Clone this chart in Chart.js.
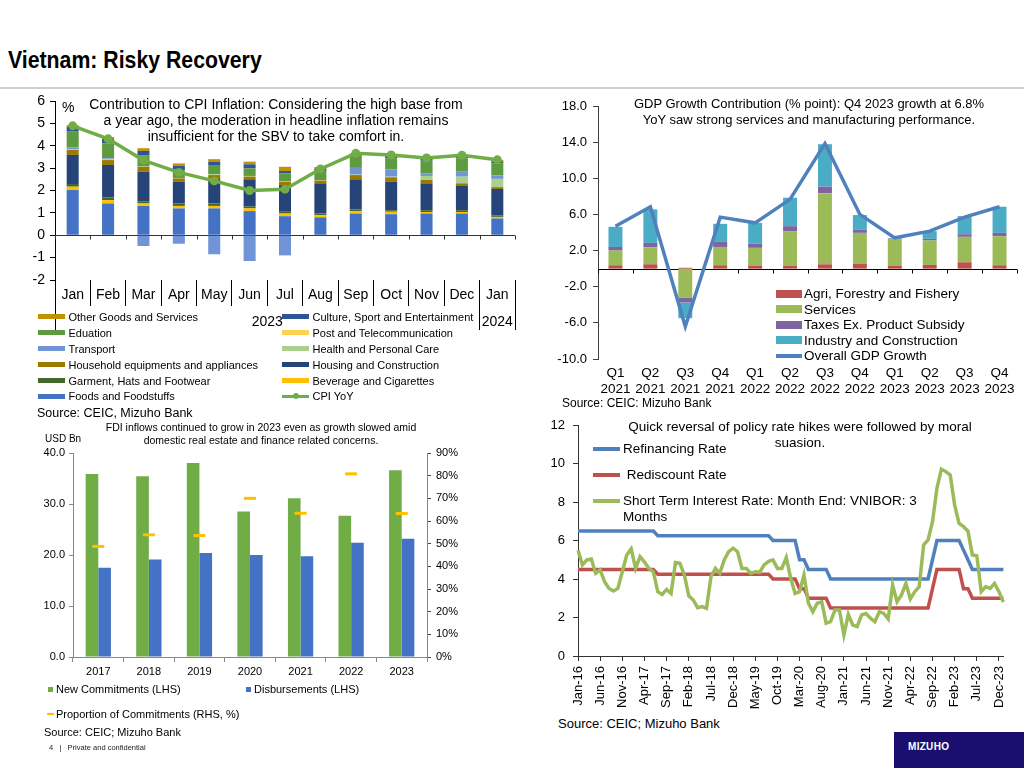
<!DOCTYPE html>
<html>
<head>
<meta charset="utf-8">
<script src="https://cdn.jsdelivr.net/npm/chart.js@4.4.1/dist/chart.umd.min.js"></script>
<style>
  body { margin: 0; width: 1024px; height: 768px; position: relative; overflow: hidden; background: #fff;
         font-family: 'Liberation Sans', Arial, sans-serif; color: #000; }
  canvas { position: absolute; }
  .t { position: absolute; white-space: nowrap; }
  .ctr { text-align: center; }
  .lg { position: absolute; display: grid; }
  .li { display: flex; align-items: center; white-space: nowrap; }
  .sw { display: inline-block; flex: none; position: relative; }
</style>
</head>
<body>
<div class="t" style="left:8px;top:48px;font:bold 24px 'Liberation Sans Narrow','Arial Narrow','Liberation Sans',sans-serif;line-height:24px;transform:scaleX(0.886);transform-origin:0 0">Vietnam: Risky Recovery</div>
<div style="position:absolute;left:0;top:87px;width:1024px;height:2px;background:#cfcfcf"></div>

<canvas id="cpi" width="505" height="247" style="left:20px;top:85px"></canvas>
<canvas id="gdp" width="479" height="307" style="left:545px;top:88px"></canvas>
<canvas id="fdi" width="445" height="248" style="left:25px;top:437px"></canvas>
<canvas id="rates" width="489" height="310" style="left:535px;top:405px"></canvas>

<!-- CPI chart texts -->
<div class="t ctr" style="left:76px;top:96px;width:400px;font-size:14px;line-height:16px">Contribution to CPI Inflation: Considering the high base from<br>a year ago, the moderation in headline inflation remains<br>insufficient for the SBV to take comfort in.</div>
<div class="t" style="left:62px;top:99px;font-size:14px;line-height:16px">%</div>
<div class="lg" id="cpiLegend" style="left:38px;top:309px;grid-template-columns:244px auto;grid-auto-rows:15.9px;font-size:11px"></div>
<div class="t" style="left:37px;top:405px;font-size:12.5px;line-height:16px">Source: CEIC, Mizuho Bank</div>

<!-- GDP chart texts -->
<div class="t ctr" style="left:609px;top:96px;width:400px;font-size:13px;line-height:15.5px">GDP Growth Contribution (% point): Q4 2023 growth at 6.8%<br>YoY saw strong services and manufacturing performance.</div>
<div class="lg" id="gdpLegend" style="left:776px;top:286px;grid-auto-rows:15.5px;font-size:13.5px"></div>
<div class="t" style="left:562px;top:396px;font-size:12px;line-height:14px">Source: CEIC: Mizuho Bank</div>

<!-- FDI chart texts -->
<div class="t ctr" style="left:61px;top:421px;width:400px;font-size:10.5px;line-height:12.5px">FDI inflows continued to grow in 2023 even as growth slowed amid<br>domestic real estate and finance related concerns.</div>
<div class="t" style="left:45px;top:433px;font-size:10px;line-height:12px">USD Bn</div>
<div class="lg" id="fdiLegend" style="left:48px;top:682px;grid-template-columns:198px auto;grid-auto-rows:25px;align-items:start;font-size:11px;line-height:14px"></div>
<div class="t" style="left:44px;top:725px;font-size:11px;line-height:14px">Source: CEIC; Mizuho Bank</div>

<!-- Rates chart texts -->
<div class="t ctr" style="left:600px;top:419px;width:400px;font-size:13.5px;line-height:15.5px">Quick reversal of policy rate hikes were followed by moral<br>suasion.</div>
<div class="lg" id="rateLegend" style="left:593px;top:441px;row-gap:10px;font-size:13.5px;line-height:16px"></div>
<div class="t" style="left:558px;top:716px;font-size:13px;line-height:16px">Source: CEIC; Mizuho Bank</div>

<!-- footer -->
<div class="t" style="left:49px;top:743px;font-size:7.5px;line-height:10px;color:#222">4&nbsp;&nbsp;&nbsp;|&nbsp;&nbsp;&nbsp;Private and confidential</div>
<div style="position:absolute;left:894px;top:732px;width:130px;height:36px;background:#1a0e6e">
  <div class="t" style="left:14px;top:9px;color:#fff;font:bold 10px 'Liberation Sans',Arial,sans-serif;letter-spacing:0.3px">MIZUHO</div>
</div>

<script>
// ---------- CPI contribution (Jan 2023 - Jan 2024) ----------
const cpiMonths = ['Jan', 'Feb', 'Mar', 'Apr', 'May', 'Jun', 'Jul', 'Aug', 'Sep', 'Oct', 'Nov', 'Dec', 'Jan'];
const cpiYears = ['2023', '2024'];
const cpiYearSpans = [12, 1];

const foods     = [2.02, 1.42, 1.31, 1.20, 1.20, 1.08, 0.85, 0.80, 0.97, 0.94, 0.97, 0.97, 0.75];
const beverage  = [0.15, 0.15, 0.11, 0.11, 0.11, 0.12, 0.12, 0.10, 0.11, 0.11, 0.07, 0.07, 0.07];
const garment   = [0.12, 0.12, 0.10, 0.11, 0.11, 0.08, 0.08, 0.07, 0.07, 0.07, 0.08, 0.08, 0.06];
const housing   = [1.30, 1.45, 1.32, 0.97, 1.09, 1.22, 1.19, 1.35, 1.35, 1.27, 1.20, 1.08, 1.19];
const household = [0.22, 0.22, 0.22, 0.15, 0.18, 0.12, 0.15, 0.12, 0.19, 0.20, 0.15, 0.12, 0.08];
const health    = [0.03, 0.03, 0.02, 0.02, 0.03, 0.03, 0.03, 0.02, 0.02, 0.03, 0.18, 0.30, 0.37];
const transport = [0.06, 0.05, -0.48, -0.38, -0.85, -1.15, -0.90, 0.00, 0.30, 0.33, 0.12, 0.22, 0.15];
const post      = [0.01, 0.01, 0.00, 0.00, 0.00, 0.00, 0.00, -0.02, 0.00, 0.00, 0.00, 0.00, 0.00];
const education = [0.72, 0.65, 0.48, 0.35, 0.42, 0.34, 0.35, 0.42, 0.58, 0.49, 0.56, 0.60, 0.55];
const culture   = [0.21, 0.20, 0.21, 0.20, 0.15, 0.18, 0.10, 0.10, 0.05, 0.10, 0.08, 0.10, 0.08];
const other     = [0.08, 0.09, 0.12, 0.10, 0.11, 0.12, 0.19, 0.07, 0.02, 0.05, 0.03, 0.05, 0.06];
const cpiYoY    = [4.89, 4.31, 3.35, 2.81, 2.43, 2.00, 2.06, 2.96, 3.66, 3.59, 3.45, 3.58, 3.37];

const cpiNames = ['Foods and Foodstuffs', 'Beverage and Cigarettes', 'Garment, Hats and Footwear',
  'Housing and Construction', 'Household equipments and appliances', 'Health and Personal Care',
  'Transport', 'Post and Telecommunication', 'Eduation', 'Culture, Sport and Entertainment',
  'Other Goods and Services'];
const cpiValues = [foods, beverage, garment, housing, household, health, transport, post, education, culture, other];
const cpiColors = ['#4472C4', '#FFC000', '#43682B', '#264478', '#9C7A00', '#A9D18E',
  '#7094D6', '#FFD34D', '#5E9A40', '#2F5597', '#C09100'];

// ---------- GDP growth contribution ----------
const gdpQuarters = [['Q1', '2021'], ['Q2', '2021'], ['Q3', '2021'], ['Q4', '2021'],
  ['Q1', '2022'], ['Q2', '2022'], ['Q3', '2022'], ['Q4', '2022'],
  ['Q1', '2023'], ['Q2', '2023'], ['Q3', '2023'], ['Q4', '2023']];
const agri     = [0.37, 0.48, 0.10, 0.37, 0.30, 0.30, 0.48, 0.52, 0.33, 0.41, 0.70, 0.37];
const services = [1.63, 1.89, -3.19, 2.03, 2.00, 3.85, 7.85, 3.44, 2.89, 2.70, 2.82, 3.22];
const taxes    = [0.40, 0.48, -0.55, 0.56, 0.48, 0.55, 0.74, 0.37, 0.11, 0.19, 0.29, 0.37];
const industry = [2.23, 3.71, -1.74, 2.00, 2.29, 3.15, 4.70, 1.60, 0.05, 0.85, 2.00, 2.89];
const gdpTotal = [4.70, 6.85, -6.40, 5.70, 5.07, 7.67, 13.85, 6.00, 3.41, 4.15, 5.70, 6.85];

// ---------- FDI ----------
const fdiYears = ['2017', '2018', '2019', '2020', '2021', '2022', '2023'];
const commitments   = [35.88, 35.46, 38.02, 28.53, 31.15, 27.72, 36.61];
const disbursements = [17.50, 19.10, 20.38, 19.98, 19.74, 22.40, 23.18];
const proportion    = [48.8, 53.9, 53.6, 70.0, 63.4, 80.8, 63.3];

// ---------- Policy rates and VNIBOR (monthly, Jan-16 .. Jan-24) ----------
const refinancing = [
  6.5, 6.5, 6.5, 6.5, 6.5, 6.5, 6.5, 6.5, 6.5, 6.5, 6.5, 6.5,
  6.5, 6.5, 6.5, 6.5, 6.5, 6.5, 6.25, 6.25, 6.25, 6.25, 6.25, 6.25,
  6.25, 6.25, 6.25, 6.25, 6.25, 6.25, 6.25, 6.25, 6.25, 6.25, 6.25, 6.25,
  6.25, 6.25, 6.25, 6.25, 6.25, 6.25, 6.25, 6.25, 6, 6, 6, 6,
  6, 6, 5, 5, 4.5, 4.5, 4.5, 4.5, 4.5, 4, 4, 4,
  4, 4, 4, 4, 4, 4, 4, 4, 4, 4, 4, 4,
  4, 4, 4, 4, 4, 4, 4, 4, 5, 6, 6, 6,
  6, 6, 6, 5.5, 5, 4.5, 4.5, 4.5, 4.5, 4.5, 4.5, 4.5,
  4.5];
const rediscount = [
  4.5, 4.5, 4.5, 4.5, 4.5, 4.5, 4.5, 4.5, 4.5, 4.5, 4.5, 4.5,
  4.5, 4.5, 4.5, 4.5, 4.5, 4.5, 4.25, 4.25, 4.25, 4.25, 4.25, 4.25,
  4.25, 4.25, 4.25, 4.25, 4.25, 4.25, 4.25, 4.25, 4.25, 4.25, 4.25, 4.25,
  4.25, 4.25, 4.25, 4.25, 4.25, 4.25, 4.25, 4.25, 4, 4, 4, 4,
  4, 4, 3.5, 3.5, 3, 3, 3, 3, 3, 2.5, 2.5, 2.5,
  2.5, 2.5, 2.5, 2.5, 2.5, 2.5, 2.5, 2.5, 2.5, 2.5, 2.5, 2.5,
  2.5, 2.5, 2.5, 2.5, 2.5, 2.5, 2.5, 2.5, 3.5, 4.5, 4.5, 4.5,
  4.5, 4.5, 4.5, 3.5, 3.5, 3, 3, 3, 3, 3, 3, 3,
  3];
const vnibor3m = [
  5.50, 4.73, 4.99, 5.04, 4.29, 4.47, 3.86, 3.51, 3.38, 3.51, 4.38, 5.25,
  5.56, 4.55, 5.16, 4.88, 4.55, 4.38, 3.34, 3.20, 3.46, 3.25, 4.85, 4.81,
  4.21, 3.13, 2.91, 2.51, 2.57, 2.48, 4.12, 4.55, 4.29, 4.99, 5.42, 5.60,
  5.42, 4.55, 4.55, 4.29, 4.38, 4.35, 4.73, 4.92, 4.99, 4.55, 4.55, 5.11,
  4.04, 3.25, 3.34, 4.21, 2.74, 2.30, 2.74, 2.82, 1.70, 1.78, 2.39, 2.39,
  1.09, 2.16, 1.61, 1.53, 2.13, 2.21, 1.96, 1.78, 2.30, 2.21, 1.92, 3.69,
  2.82, 3.17, 3.77, 2.96, 3.34, 3.60, 5.77, 6.03, 6.98, 8.71, 9.71, 9.58,
  9.40, 7.84, 6.88, 6.72, 6.49, 5.25, 5.21, 3.34, 3.60, 3.51, 3.77, 3.34,
  2.80];
const monthNames = ['Jan', 'Feb', 'Mar', 'Apr', 'May', 'Jun', 'Jul', 'Aug', 'Sep', 'Oct', 'Nov', 'Dec'];
const rateMonths = refinancing.map((v, k) => monthNames[k % 12] + '-' + (16 + Math.floor(k / 12)));
const rateLabelEvery = 5;

// ---------- shared setup ----------
Chart.defaults.font.family = "'Liberation Sans', Arial, sans-serif";
Chart.defaults.color = '#000';
Chart.defaults.animation = false;
Chart.defaults.responsive = false;
Chart.defaults.plugins.legend.display = false;
Chart.defaults.plugins.tooltip.enabled = false;

// horizontal line at zero with small ticks at category boundaries
const zeroLine = {
  id: 'zeroLine',
  beforeDatasetsDraw(chart, args, opts) {
    const {ctx, chartArea, scales} = chart;
    const y0 = Math.round(scales.y.getPixelForValue(0)) + 0.5;
    ctx.save();
    ctx.strokeStyle = opts.color || '#000';
    ctx.lineWidth = 1;
    ctx.beginPath();
    ctx.moveTo(chartArea.left, y0);
    ctx.lineTo(chartArea.right, y0);
    for (let i = 0; i <= chart.data.labels.length; i++) {
      const px = Math.round(scales.x.getPixelForValue(i - 0.5)) + 0.5;
      ctx.moveTo(px, y0);
      ctx.lineTo(px, y0 + 4);
    }
    ctx.stroke();
    ctx.restore();
  }
};

function buildLegend(id, items, swatch) {
  const box = document.getElementById(id);
  items.forEach(ds => {
    const row = document.createElement('div');
    row.className = 'li';
    const sw = document.createElement('span');
    sw.className = 'sw';
    swatch(ds, sw);
    const tx = document.createElement('span');
    tx.textContent = ds.label;
    tx.style.whiteSpace = 'pre-wrap';
    row.append(sw, tx);
    box.append(row);
  });
  return box;
}

// ---------- CPI chart ----------
let edge = -0.5;
const yearTicks = [{value: edge, edge: true}];
cpiYears.forEach((y, k) => {
  yearTicks.push({value: edge + cpiYearSpans[k] / 2, name: y});
  edge += cpiYearSpans[k];
  yearTicks.push({value: edge, edge: true});
});

const cpiDatasets = cpiNames.map((name, k) => ({
  type: 'bar',
  label: name,
  data: cpiValues[k],
  backgroundColor: cpiColors[k],
  order: 1,
  categoryPercentage: 1,
  barPercentage: 0.34
}));
cpiDatasets.push({
  type: 'line',
  label: 'CPI YoY',
  data: cpiYoY,
  borderColor: '#70AD47',
  backgroundColor: '#70AD47',
  borderWidth: 3.5,
  pointRadius: 4.5,
  pointBorderWidth: 0,
  pointBackgroundColor: '#70AD47',
  order: 0
});

const cpiChart = new Chart(document.getElementById('cpi'), {
  type: 'bar',
  data: {labels: cpiMonths, datasets: cpiDatasets},
  plugins: [zeroLine],
  options: {
    layout: {padding: {top: 16, right: 10, left: 0, bottom: 0}},
    plugins: {zeroLine: {color: '#333'}},
    scales: {
      x: {
        stacked: true,
        weight: 0,
        border: {display: false},
        grid: {offset: true, drawOnChartArea: false, tickLength: 26, color: '#000'},
        ticks: {autoSkip: false, maxRotation: 0, padding: -19, font: {size: 14}},
        afterFit: s => { s.height = 26; }
      },
      x2: {
        type: 'linear',
        position: 'bottom',
        weight: 1,
        offset: false,
        min: -0.5,
        max: cpiMonths.length - 0.5,
        bounds: 'data',
        border: {display: false},
        grid: {
          offset: false,
          drawOnChartArea: false,
          tickLength: 24,
          color: c => (c.tick && c.tick.edge ? '#000' : 'transparent')
        },
        afterBuildTicks: s => { s.ticks = yearTicks.map(t => Object.assign({}, t)); },
        ticks: {
          autoSkip: false, maxRotation: 0, padding: -16.5, font: {size: 14},
          callback: (v, i, ticks) => ticks[i].name || ''
        },
        afterFit: s => { s.height = 26; }
      },
      y: {
        stacked: true,
        min: -2, max: 6,
        ticks: {stepSize: 1, padding: 5, font: {size: 14}},
        border: {color: '#000'},
        grid: {drawOnChartArea: false, tickLength: 5, tickColor: '#000'},
        afterFit: s => { s.width = 35; }
      }
    }
  }
});

const cpiBars = cpiChart.data.datasets.filter(d => d.type === 'bar').slice().reverse();
const cpiLines = cpiChart.data.datasets.filter(d => d.type === 'line');
buildLegend('cpiLegend', cpiBars.concat(cpiLines), (ds, sw) => {
  if (ds.type === 'line') {
    sw.style.cssText = `width:27px;height:3px;background:${ds.borderColor};margin-right:3.5px`;
    const dot = document.createElement('span');
    dot.style.cssText = `position:absolute;left:10.5px;top:-1.5px;width:6px;height:6px;border-radius:50%;background:${ds.borderColor}`;
    sw.append(dot);
  } else {
    sw.style.cssText = `width:27px;height:5px;background:${ds.backgroundColor};margin-right:3.5px`;
  }
});

// ---------- GDP chart ----------
const gdpNames = ['Agri, Forestry and Fishery', 'Services', 'Taxes Ex. Product Subsidy', 'Industry and Construction'];
const gdpValues = [agri, services, taxes, industry];
const gdpColors = ['#C0504D', '#9BBB59', '#8064A2', '#4BACC6'];

const gdpDatasets = gdpNames.map((name, k) => ({
  type: 'bar',
  label: name,
  data: gdpValues[k],
  backgroundColor: gdpColors[k],
  order: 1,
  categoryPercentage: 1,
  barPercentage: 0.4
}));
gdpDatasets.push({
  type: 'line',
  label: 'Overall GDP Growth',
  data: gdpTotal,
  borderColor: '#4F81BD',
  borderWidth: 3.5,
  pointRadius: 0,
  order: 0
});

const gdpChart = new Chart(document.getElementById('gdp'), {
  type: 'bar',
  data: {labels: gdpQuarters, datasets: gdpDatasets},
  plugins: [zeroLine],
  options: {
    layout: {padding: {top: 18, right: 7, left: 0, bottom: 0}},
    plugins: {zeroLine: {color: '#000'}},
    scales: {
      x: {
        stacked: true,
        border: {display: false},
        grid: {display: false, drawTicks: false},
        ticks: {autoSkip: false, maxRotation: 0, padding: 6, font: {size: 13.5}},
        afterFit: s => { s.height = 36; }
      },
      y: {
        stacked: true,
        min: -10, max: 18,
        ticks: {stepSize: 4, padding: 6, font: {size: 13}, callback: v => v.toFixed(1)},
        border: {color: '#404040'},
        grid: {drawOnChartArea: false, tickLength: 5, tickColor: '#404040'},
        afterFit: s => { s.width = 53; }
      }
    }
  }
});

buildLegend('gdpLegend', gdpChart.data.datasets, (ds, sw) => {
  if (ds.type === 'line') {
    sw.style.cssText = `width:26px;height:3.5px;background:${ds.borderColor};margin-right:2px`;
  } else {
    sw.style.cssText = `width:26px;height:8px;background:${ds.backgroundColor};margin-right:2px`;
  }
});

// ---------- FDI chart ----------
const fdiChart = new Chart(document.getElementById('fdi'), {
  type: 'bar',
  data: {
    labels: fdiYears,
    datasets: [
      {label: 'New Commitments (LHS)', data: commitments, backgroundColor: '#70AD47',
       yAxisID: 'y', order: 1, categoryPercentage: 0.5, barPercentage: 1},
      {label: 'Disbursements (LHS)', data: disbursements, backgroundColor: '#4472C4',
       yAxisID: 'y', order: 1, categoryPercentage: 0.5, barPercentage: 1},
      {type: 'line', label: 'Proportion of Commitments (RHS, %)', data: proportion, yAxisID: 'y2',
       showLine: false, pointStyle: 'line', pointRadius: 6, pointBorderWidth: 3,
       pointBorderColor: '#FFC000', borderColor: '#FFC000', order: 0}
    ]
  },
  options: {
    layout: {padding: {top: 16, right: 0, left: 0, bottom: 0}},
    scales: {
      x: {
        border: {color: '#888'},
        grid: {offset: true, drawOnChartArea: false, tickLength: 5, color: '#888'},
        ticks: {padding: 3, font: {size: 11}},
        afterFit: s => { s.height = 28; }
      },
      y: {
        position: 'left',
        min: 0, max: 40,
        ticks: {stepSize: 10, padding: 4, font: {size: 11}, callback: v => v.toFixed(1)},
        border: {color: '#888'},
        grid: {drawOnChartArea: false, tickLength: 4, tickColor: '#888'},
        afterFit: s => { s.width = 48; }
      },
      y2: {
        position: 'right',
        min: 0, max: 90,
        ticks: {stepSize: 10, padding: 5, font: {size: 11}, callback: v => v + '%'},
        border: {color: '#888'},
        grid: {drawOnChartArea: false, tickLength: 4, tickColor: '#444'},
        afterFit: s => { s.width = 43; }
      }
    }
  }
});

buildLegend('fdiLegend', fdiChart.data.datasets, (ds, sw) => {
  if (ds.type === 'line') {
    sw.style.cssText = `width:7px;height:2px;margin:0 2px 0 -1px;background:${ds.pointBorderColor}`;
  } else {
    sw.style.cssText = `width:5px;height:5px;margin-right:3px;background:${ds.backgroundColor}`;
  }
});
document.querySelectorAll('#fdiLegend .li')[2].style.gridColumn = '1 / 3';

// ---------- Rates chart ----------
const rateChart = new Chart(document.getElementById('rates'), {
  type: 'line',
  data: {
    labels: rateMonths,
    datasets: [
      {label: 'Refinancing Rate', data: refinancing, borderColor: '#4F81BD', order: 3},
      {label: ' Rediscount Rate', data: rediscount, borderColor: '#C0504D', order: 2},
      {label: 'Short Term Interest Rate: Month End: VNIBOR: 3 Months', data: vnibor3m, borderColor: '#9BBB59', order: 1}
    ]
  },
  options: {
    layout: {padding: {top: 20, right: 17, left: 0, bottom: 0}},
    elements: {line: {borderWidth: 3.5, tension: 0}, point: {radius: 0}},
    scales: {
      x: {
        border: {color: '#333'},
        grid: {
          drawOnChartArea: false,
          tickLength: 5,
          color: c => (c.index % rateLabelEvery === 0 ? '#333' : 'transparent')
        },
        ticks: {
          autoSkip: false, minRotation: 90, maxRotation: 90, padding: 5, font: {size: 13},
          callback: function (v, i) { return i % rateLabelEvery === 0 ? this.getLabelForValue(v) : ''; }
        },
        afterFit: s => { s.height = 59; }
      },
      y: {
        min: 0, max: 12,
        ticks: {stepSize: 2, padding: 8, font: {size: 13}},
        border: {color: '#333'},
        grid: {drawOnChartArea: false, tickLength: 5, tickColor: '#333'},
        afterFit: s => { s.width = 43; }
      }
    }
  }
});

const rateBox = buildLegend('rateLegend', rateChart.data.datasets, (ds, sw) => {
  sw.style.cssText = `width:27px;height:3.5px;margin:6.25px 3px 0 0;background:${ds.borderColor}`;
});
rateBox.querySelectorAll('.li').forEach(li => {
  li.style.alignItems = 'flex-start';
  li.lastChild.style.whiteSpace = 'pre-wrap';
  li.lastChild.style.width = '305px';
});
</script>
</body>
</html>
